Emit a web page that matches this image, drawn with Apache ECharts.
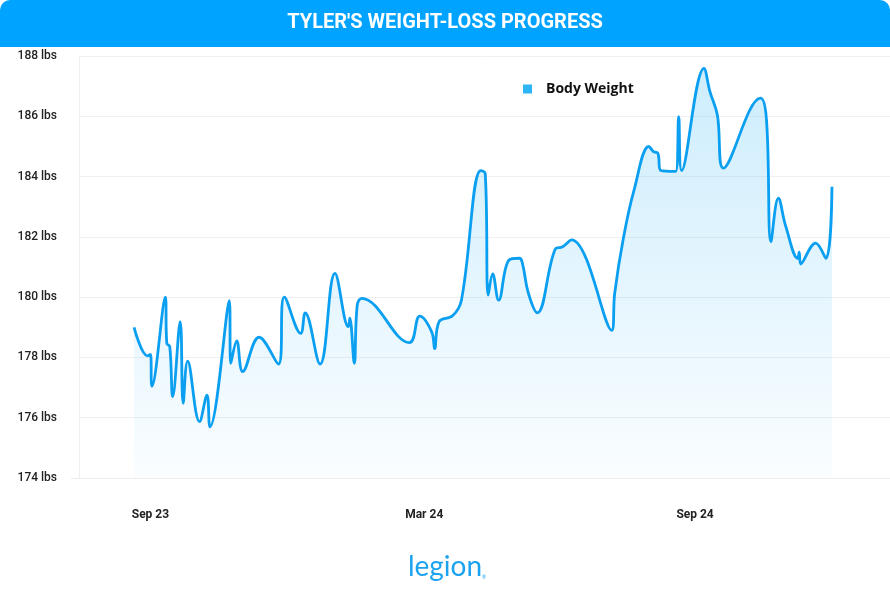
<!DOCTYPE html>
<html>
<head>
<meta charset="utf-8">
<script src="https://cdn.jsdelivr.net/npm/echarts@6/dist/echarts.min.js"></script>
<style>
html,body{margin:0;padding:0;background:#fff;}
#chart{width:890px;height:605px;}
</style>
</head>
<body>
<div id="chart"></div>
<script>
const titleText = "TYLER'S WEIGHT-LOSS PROGRESS";
const seriesName = 'Body Weight';
const dates = [
  '2023-08-21','2023-08-30','2023-09-01','2023-09-02','2023-09-11','2023-09-12','2023-09-14','2023-09-16',
  '2023-09-21','2023-09-23','2023-09-26','2023-10-04','2023-10-09','2023-10-11','2023-10-24','2023-10-25',
  '2023-10-29','2023-11-02','2023-11-13','2023-11-26','2023-11-30','2023-12-11','2023-12-14','2023-12-24',
  '2024-01-03','2024-01-12','2024-01-13','2024-01-16','2024-01-18','2024-01-21','2024-02-22','2024-02-29',
  '2024-03-08','2024-03-10','2024-03-13','2024-03-22','2024-03-28','2024-04-10','2024-04-13','2024-04-15',
  '2024-04-18','2024-04-22','2024-04-29','2024-05-06','2024-05-08','2024-05-12','2024-05-18','2024-05-30',
  '2024-06-04','2024-06-10','2024-07-07','2024-07-09','2024-07-15','2024-07-22','2024-08-01','2024-08-04',
  '2024-08-07','2024-08-09','2024-08-19','2024-08-21','2024-08-23','2024-09-07','2024-09-11','2024-09-16',
  '2024-09-20','2024-10-15','2024-10-19','2024-10-22','2024-10-27','2024-11-01','2024-11-09','2024-11-10',
  '2024-11-11','2024-11-21','2024-11-28','2024-12-02'
];
const weights = [
  179.0,178.05,178.1,177.05,180.0,178.47,178.36,176.7,
  179.19,176.48,177.88,175.87,176.75,175.7,179.88,177.8,
  178.55,177.53,178.67,177.78,180.0,178.8,179.48,177.78,
  180.79,179.02,179.3,177.8,179.74,179.96,178.49,179.37,
  178.85,178.29,179.19,179.38,179.9,184.2,184.1,180.07,
  180.77,179.9,181.23,181.29,181.12,180.13,179.48,181.59,
  181.67,181.9,178.9,180.13,182.0,183.55,185.0,184.83,
  184.77,184.2,184.17,185.99,184.2,187.59,186.82,186.04,
  184.28,186.6,185.88,181.84,183.28,182.34,181.29,181.49,
  181.1,181.79,181.29,183.66
];
const xTickDates = ['2023-09-01','2024-03-03','2024-09-01'];
const xTickLabels = ['Sep 23','Mar 24','Sep 24'];
const yMin = 174, yMax = 188, yStep = 2;

const DAY = 86400000;
const origin = Date.parse('2023-09-01');
const toDay = d => Math.round((Date.parse(d) - origin) / DAY);
const points = dates.map((d, i) => [toDay(d), weights[i]]);
const tickDays = xTickDates.map(toDay);
const labelFor = {};
tickDays.forEach((t, i) => { labelFor[t] = xTickLabels[i]; });

const chart = echarts.init(document.getElementById('chart'));
chart.setOption({
  backgroundColor: '#ffffff',
  animation: false,
  textStyle: { fontFamily: 'Roboto, sans-serif' },
  graphic: [
    { type: 'rect', left: 0, top: 0, shape: { width: 890, height: 47, r: [10, 10, 0, 0] }, style: { fill: '#00A3FF' }, silent: true },
    { type: 'text', left: 'center', top: 13, style: { text: titleText, fill: '#ffffff', font: 'bold 20px Roboto, sans-serif' } },
    { type: 'line', shape: { x1: 71, y1: 478.5, x2: 79, y2: 478.5 }, style: { stroke: '#EDEDED', lineWidth: 1 } },
    { type: 'text', left: 'center', top: 553, style: { text: 'legion', fill: '#1CA3EF', font: '28px Lato, sans-serif' } },
    { type: 'text', left: 482, top: 575, style: { text: '®', fill: '#1CA3EF', font: '5px Lato, sans-serif' } }
  ],
  legend: {
    data: [seriesName],
    left: 518, top: 77,
    icon: 'rect', itemWidth: 9, itemHeight: 9,
    textStyle: { fontSize: 14, fontWeight: 'bold', fontFamily: '"Open Sans", sans-serif', color: '#111', padding: [0, 0, 0, 9] }
  },
  grid: { left: 79, right: 0, top: 56, bottom: 127, containLabel: false },
  xAxis: {
    type: 'value', min: -48, max: 497,
    splitLine: { show: false },
    axisTick: { show: false },
    axisLine: { show: true, lineStyle: { color: '#EDEDED', width: 1 } },
    axisLabel: {
      customValues: tickDays,
      formatter: v => labelFor[v] || '',
      margin: 31, fontSize: 12, fontWeight: 'bold', color: '#222'
    }
  },
  yAxis: {
    type: 'value', min: yMin, max: yMax, interval: yStep,
    axisLine: { show: true, onZero: false, lineStyle: { color: '#EFEFEF' } },
    axisTick: { show: false },
    splitLine: { lineStyle: { color: '#F0F0F0' } },
    axisLabel: { formatter: '{value} lbs', margin: 22, fontSize: 12, fontWeight: 500, color: '#222' }
  },
  series: [{
    name: seriesName,
    type: 'line',
    data: points,
    smooth: 0.4,
    symbol: 'none',
    itemStyle: { color: '#2DB4F5' },
    lineStyle: { color: '#0A9FF0', width: 2.8 },
    areaStyle: {
      color: new echarts.graphic.LinearGradient(0, 0, 0, 1, [
        { offset: 0, color: 'rgba(20,170,245,0.30)' },
        { offset: 1, color: 'rgba(20,170,245,0.03)' }
      ])
    }
  }]
});
</script>
</body>
</html>
